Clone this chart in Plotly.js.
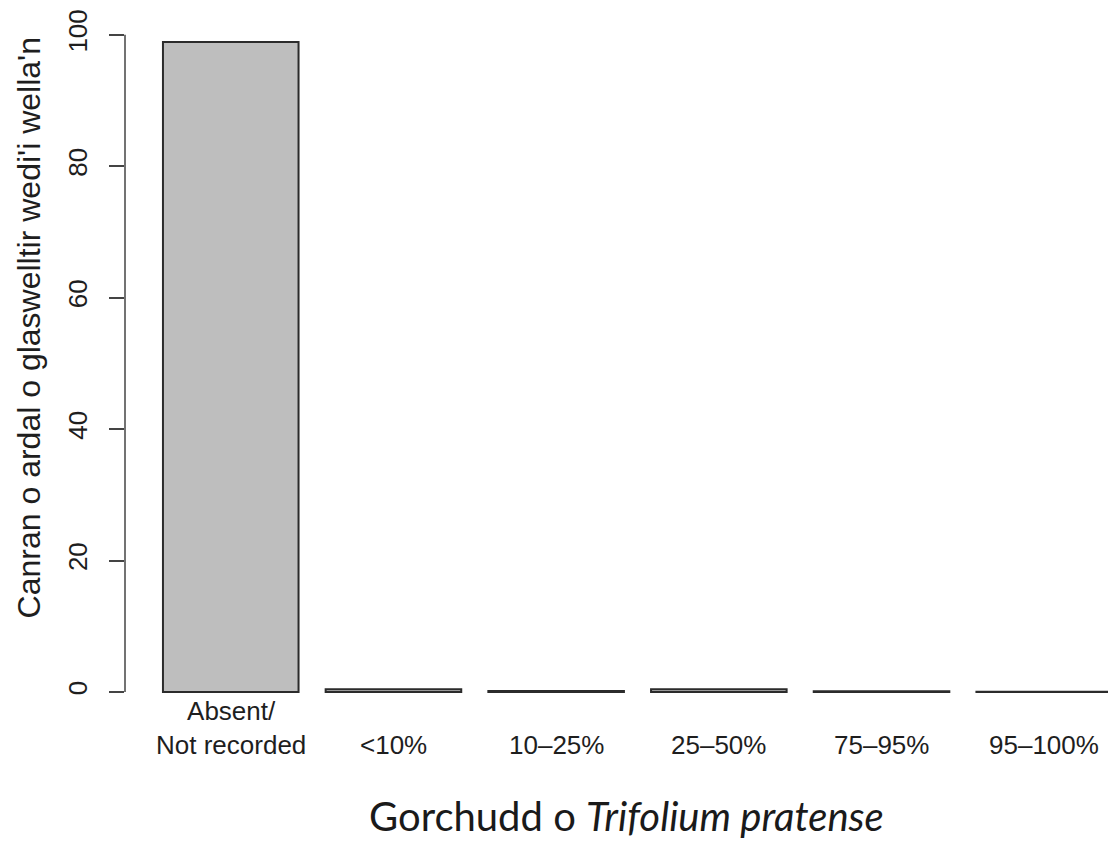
<!DOCTYPE html>
<html>
<head>
<meta charset="utf-8">
<script src="https://cdn.plot.ly/plotly-3.0.1.min.js"></script>
<style>
  html, body { margin: 0; padding: 0; background: #ffffff; }
  #chart { width: 1108px; height: 843px; }
</style>
</head>
<body>
<div id="chart"></div>
<script>
// Cover classes of red clover and the share of improved grassland in each
const categories = ['Absent/\nNot recorded', '<10%', '10\u201325%', '25\u201350%', '75\u201395%', '95\u2013100%'];
const shareOfArea = [98.9, 0.4, 0.15, 0.4, 0.1, 0.05];
const yTicks = [0, 20, 40, 60, 80, 100];

const yTitle = "Canran o ardal o glaswelltir wedi'i wella'n";
const xTitle = 'Gorchudd o <i>Trifolium pratense</i>';

const axisFont = { family: '"Liberation Sans", Arial, sans-serif', size: 26, color: '#1e1e1e' };

const trace = {
  type: 'bar',
  x: categories,
  y: shareOfArea,
  marker: { color: '#bebebe', line: { color: '#2b2b2b', width: 2 } },
  hoverinfo: 'x+y'
};

// Category labels: last lines share one baseline, so two-line labels grow upward
const categoryLabels = categories.map(c => ({
  xref: 'x', yref: 'paper',
  x: c, y: -0.062,
  xanchor: 'center', yanchor: 'bottom',
  text: c.replace('\n', '<br>'),
  showarrow: false,
  font: axisFont
}));

const layout = {
  width: 1108,
  height: 843,
  margin: { l: 125, r: 0, t: 16, b: 125 },
  paper_bgcolor: '#ffffff',
  plot_bgcolor: '#ffffff',
  showlegend: false,
  bargap: 1 / 6,
  xaxis: {
    type: 'category',
    range: [-0.65, 5.392],
    showticklabels: false,
    showline: false,
    showgrid: false,
    zeroline: false,
    ticks: ''
  },
  yaxis: {
    range: [-3.96, 102.86],
    tickmode: 'array',
    tickvals: yTicks,
    ticktext: yTicks.map(String),
    tickangle: -90,
    ticks: 'outside',
    ticklen: 15,
    tickwidth: 1.5,
    tickcolor: '#444444',
    ticklabelstandoff: 12,
    showline: false,
    showgrid: false,
    zeroline: false,
    tickfont: axisFont
  },
  annotations: categoryLabels.concat([
    {
      xref: 'paper', yref: 'paper',
      x: 0, y: 0.555, xshift: -96,
      xanchor: 'center', yanchor: 'middle',
      textangle: -90,
      text: yTitle,
      showarrow: false,
      font: { family: '"Liberation Sans", Arial, sans-serif', size: 32, color: '#1e1e1e' }
    },
    {
      xref: 'paper', yref: 'paper',
      x: 0.5097, y: -0.1396,
      xanchor: 'center', yanchor: 'middle',
      text: xTitle,
      showarrow: false,
      font: { family: 'Lato, "Open Sans", sans-serif', size: 40, color: '#1a1a1a' }
    }
  ]),
  // R-style axis line spanning only the tick range
  shapes: [{
    type: 'line',
    xref: 'paper', yref: 'y',
    x0: 0, x1: 0,
    y0: yTicks[0], y1: yTicks[yTicks.length - 1],
    line: { color: '#444444', width: 1.5 }
  }]
};

Plotly.newPlot('chart', [trace], layout, { displayModeBar: false, responsive: false });
</script>
</body>
</html>
